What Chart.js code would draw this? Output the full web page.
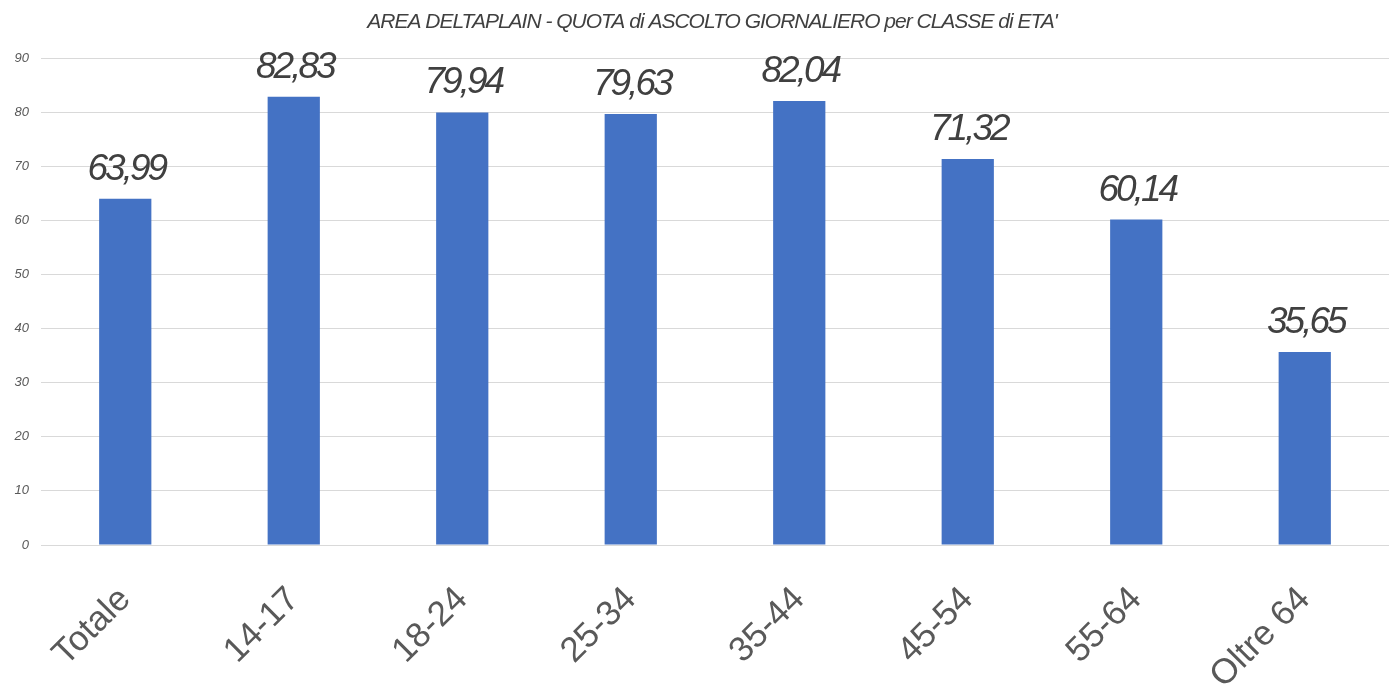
<!DOCTYPE html>
<html>
<head>
<meta charset="utf-8">
<script src="https://cdn.jsdelivr.net/npm/chart.js@4/dist/chart.umd.min.js"></script>
<style>
    body { margin: 0; background: #ffffff; }
    canvas { display: block; }
</style>
</head>
<body>
<canvas id="chart" width="1389" height="687"></canvas>
<script>
const chartTitle = "AREA DELTAPLAIN - QUOTA di ASCOLTO GIORNALIERO per CLASSE di ETA'";
const categories = ["Totale", "14-17", "18-24", "25-34", "35-44", "45-54", "55-64", "Oltre 64"];
const quota = [63.99, 82.83, 79.94, 79.63, 82.04, 71.32, 60.14, 35.65];
const yTicks = [0, 10, 20, 30, 40, 50, 60, 70, 80, 90];

const fontFamily = "'Liberation Sans', Arial, sans-serif";

// titolo disegnato a mano per poter stringere le lettere
const titlePlugin = {
    id: "titleText",
    afterDraw(chart) {
        const ctx = chart.ctx;
        ctx.save();
        ctx.font = "italic 21px " + fontFamily;
        ctx.fillStyle = "#404040";
        ctx.textAlign = "center";
        ctx.textBaseline = "middle";
        ctx.letterSpacing = "-1px";
        ctx.fillText(chartTitle, 712, 22);
        ctx.restore();
    }
};

// etichette dei valori sopra le barre, con la virgola
const valueLabels = {
    id: "valueLabels",
    afterDatasetsDraw(chart) {
        const ctx = chart.ctx;
        const meta = chart.getDatasetMeta(0);
        ctx.save();
        ctx.font = "italic 37px " + fontFamily;
        ctx.fillStyle = "#404040";
        ctx.textAlign = "center";
        ctx.textBaseline = "alphabetic";
        ctx.letterSpacing = "-3px";
        meta.data.forEach((bar, i) => {
            const txt = quota[i].toFixed(2).replace(".", ",");
            ctx.fillText(txt, bar.x + 1, bar.y - 19);
        });
        ctx.restore();
    }
};

new Chart(document.getElementById("chart").getContext("2d"), {
    type: "bar",
    data: {
        labels: categories,
        datasets: [{
            data: quota,
            backgroundColor: "#4472C4",
            barPercentage: 0.31,
            categoryPercentage: 1
        }]
    },
    options: {
        responsive: false,
        animation: false,
        layout: { padding: { top: 58, right: -7, left: 0, bottom: 0 } },
        plugins: {
            legend: { display: false },
            title: { display: false },
            tooltip: { enabled: false }
        },
        scales: {
            x: {
                grid: { display: false },
                border: { display: false },
                ticks: {
                    color: "#595959",
                    font: { family: fontFamily, size: 35 },
                    minRotation: 45,
                    maxRotation: 45,
                    padding: 26
                },
                afterFit(scale) { scale.height = 142; }
            },
            y: {
                min: 0,
                max: 90,
                afterBuildTicks(scale) { scale.ticks = yTicks.map(v => ({ value: v })); },
                grid: { color: "#d9d9d9", lineWidth: 1, drawTicks: false },
                border: { display: false },
                ticks: {
                    color: "#595959",
                    font: { family: fontFamily, size: 13, style: "italic" },
                    padding: 12
                },
                afterFit(scale) { scale.width = 41; }
            }
        }
    },
    plugins: [titlePlugin, valueLabels]
});
</script>
</body>
</html>
